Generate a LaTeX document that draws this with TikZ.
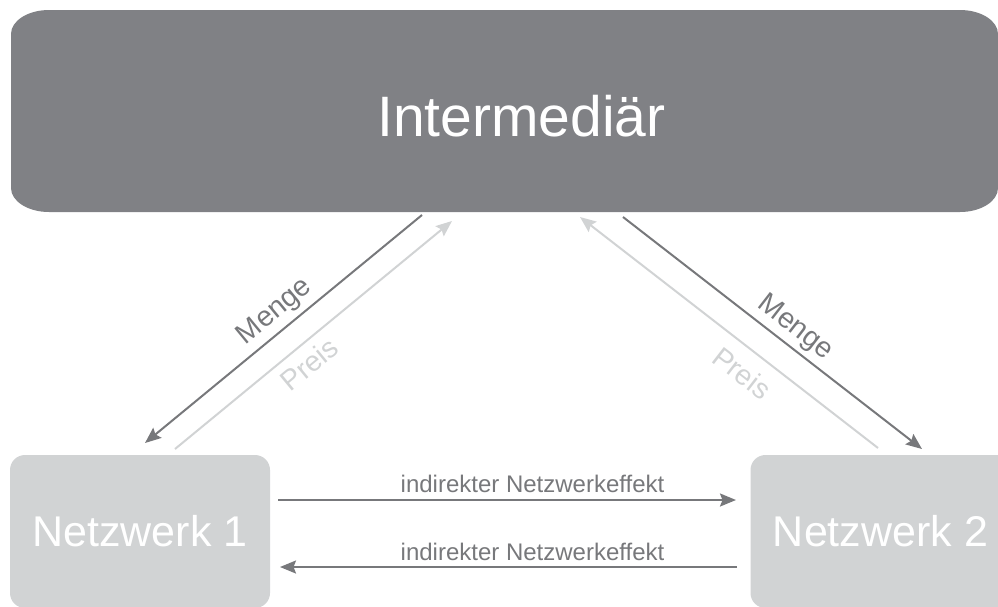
\documentclass[tikz,border=0pt]{standalone}
\usepackage{fontspec}
\setmainfont{Liberation Sans}
\usetikzlibrary{arrows.meta}
\definecolor{topgrey}{RGB}{128,129,133}
\definecolor{darkg}{RGB}{119,120,123}
\definecolor{lightg}{RGB}{209,211,212}
\begin{document}
\begin{tikzpicture}[x=1pt,y=-1pt,
  tip/.style={-{Stealth[length=16pt,width=13pt,inset=2.5pt]}},
  darkarrow/.style={draw=darkg,line width=2pt,tip},
  lightarrow/.style={draw=lightg,line width=2pt,tip},
  netbox/.style={fill=lightg,rounded corners=15pt,minimum width=260pt,minimum height=153pt,inner sep=0pt,text=white,font=\fontsize{43}{46}\selectfont},
  effectlabel/.style={text=darkg,font=\fontsize{24}{26}\selectfont,anchor=base,inner sep=0pt},
  slopelabel/.style={font=\fontsize{28.5}{30}\selectfont,inner sep=0pt}]
\useasboundingbox (0,0) rectangle (998,606);
% top box with elliptical corners
\fill[topgrey] (49,10) -- (960,10) .. controls (981,10) and (998,20.75) .. (998,34)
  -- (998,188) .. controls (998,201.25) and (981,212) .. (960,212)
  -- (49,212) .. controls (28,212) and (11,201.25) .. (11,188)
  -- (11,34) .. controls (11,20.75) and (28,10) .. (49,10) -- cycle;
\node[text=white,font=\fontsize{57}{60}\selectfont,anchor=base,inner sep=0pt] (inter) at (521.5,136) {Intermediär};
% bottom boxes
\node[netbox] (net1) at (140,531.5) {Netzwerk 1};
\node[netbox] (net2) at (880.5,531.5) {Netzwerk 2};
% diagonal connector end points
\coordinate (mLs) at (422,215);
\coordinate (mLe) at (145,443);
\coordinate (pLs) at (175,449);
\coordinate (pLe) at (452,221);
\coordinate (pRs) at (878,448);
\coordinate (pRe) at (580,217);
\coordinate (mRs) at (623,217);
\coordinate (mRe) at (922,449);
\draw[darkarrow] (mLs) -- (mLe);
\draw[lightarrow] (pLs) -- (pLe);
\draw[lightarrow] (pRs) -- (pRe);
\draw[darkarrow] (mRs) -- (mRe);
\node[slopelabel,text=darkg,rotate=39.5] (mengeL) at (275,312) {Menge};
\node[slopelabel,text=lightg,rotate=39.5] (preisL) at (309,364) {Preis};
\node[slopelabel,text=darkg,rotate=-37.8] (mengeR) at (795,328) {Menge};
\node[slopelabel,text=lightg,rotate=-37.8] (preisR) at (742,373) {Preis};
% horizontal connectors
\coordinate (h1s) at (278,500);
\coordinate (h1e) at (736,500);
\coordinate (h2s) at (737,567);
\coordinate (h2e) at (280,567);
\draw[darkarrow] (h1s) -- (h1e);
\draw[darkarrow] (h2s) -- (h2e);
\node[effectlabel] (eff1) at (532.5,492) {indirekter Netzwerkeffekt};
\node[effectlabel] (eff2) at (532.5,560) {indirekter Netzwerkeffekt};
\end{tikzpicture}
\end{document}
